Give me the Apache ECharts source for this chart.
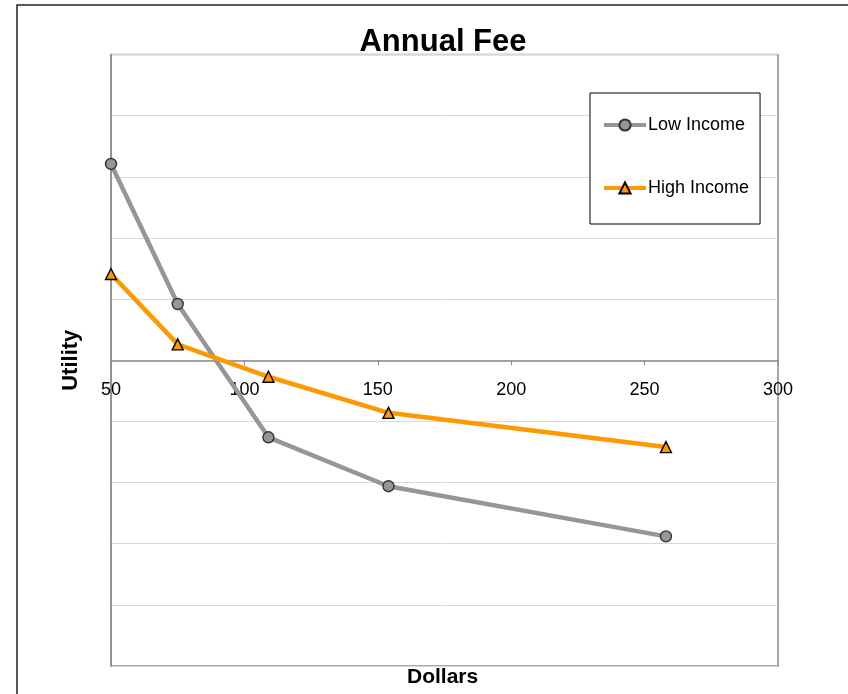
<!DOCTYPE html>
<html>
<head>
<meta charset="utf-8">
<title>Annual Fee</title>
<script src="https://cdn.jsdelivr.net/npm/echarts@6/dist/echarts.min.js"></script>
<style>
  html, body { margin: 0; padding: 0; background: #fff; }
  #chart { width: 848px; height: 694px; }
</style>
</head>
<body>
<div id="chart"></div>
<script>
// Annual fee levels (dollars) and estimated utility for each income group
const dollars = [50, 75, 109, 154, 258];
const lowIncome = [0.321, 0.092, -0.126, -0.206, -0.288];
const highIncome = [0.141, 0.026, -0.027, -0.086, -0.142];
const seriesNames = ['Low Income', 'High Income'];

const pairs = (xs, ys) => xs.map((x, i) => [x, ys[i]]);

const Y_MIN = -0.5, Y_MAX = 0.5;
const GRID = { left: 111, right: 70, top: 54.5, bottom: 28 };
const plotHeight = 694 - GRID.top - GRID.bottom;
// lift the dollar axis from the bottom of the plot up to utility = 0
const zeroOffset = -((0 - Y_MIN) / (Y_MAX - Y_MIN)) * plotHeight;

const chart = echarts.init(document.getElementById('chart'), null, { renderer: 'canvas' });

const font = 'Liberation Sans, Arial, Helvetica, sans-serif';

chart.setOption({
  animation: false,
  backgroundColor: '#ffffff',
  title: {
    text: 'Annual Fee',
    left: 438,
    textAlign: 'center',
    top: 22,
    textStyle: { fontFamily: font, fontSize: 31, fontWeight: 'bold', color: '#000' }
  },
  grid: Object.assign({
    outerBoundsMode: 'none',
    containLabel: false,
    show: true, borderColor: '#8c8c8c', borderWidth: 1.5, backgroundColor: '#fff'
  }, GRID),
  legend: {
    orient: 'vertical',
    left: 590, top: 93,
    width: 172,
    padding: [23, 11, 27, 12],
    itemGap: 45,
    itemWidth: 42, itemHeight: 14,
    borderColor: '#000', borderWidth: 1,
    backgroundColor: '#fff',
    textStyle: { fontFamily: font, fontSize: 18, color: '#000', padding: [0, 0, 0, -3] },
    data: [
      { name: seriesNames[0], lineStyle: { width: 4, color: '#969696' } },
      { name: seriesNames[1], lineStyle: { width: 4, color: '#ff9900' } }
    ]
  },
  xAxis: {
    type: 'value',
    position: 'bottom',
    offset: zeroOffset,
    min: 50, max: 300, interval: 50,
    axisLine: { onZero: false, lineStyle: { color: '#8c8c8c', width: 1.5 } },
    axisTick: { show: true, inside: false, length: 5, lineStyle: { color: '#8c8c8c' } },
    axisLabel: { margin: 21, fontFamily: font, fontSize: 18, color: '#000', showMinLabel: true, showMaxLabel: true },
    splitLine: { show: false }
  },
  yAxis: {
    type: 'value',
    min: Y_MIN, max: Y_MAX, interval: 0.1,
    name: 'Utility',
    nameLocation: 'middle',
    nameGap: 29,
    nameRotate: 90,
    nameTextStyle: { fontFamily: font, fontSize: 22, fontWeight: 'bold', color: '#000' },
    axisLine: { show: true, onZero: false, lineStyle: { color: '#8c8c8c', width: 1.5 } },
    axisTick: { show: false },
    axisLabel: { show: false },
    splitLine: { show: true, lineStyle: { color: '#d9d9d9', width: 1 } }
  },
  series: [
    {
      name: seriesNames[0],
      type: 'line',
      data: pairs(dollars, lowIncome),
      symbol: 'circle',
      symbolSize: 11,
      lineStyle: { color: '#969696', width: 4.5 },
      itemStyle: { color: '#969696', borderColor: '#333', borderWidth: 1.4 },
      z: 3
    },
    {
      name: seriesNames[1],
      type: 'line',
      data: pairs(dollars, highIncome),
      symbol: 'triangle',
      symbolSize: 11,
      lineStyle: { color: '#ff9900', width: 4.5 },
      itemStyle: { color: '#ff9900', borderColor: '#000', borderWidth: 1.4 },
      z: 4
    }
  ],
  graphic: [
    {
      type: 'rect',
      shape: { x: 17, y: 5, width: 900, height: 800 },
      style: { fill: 'none', stroke: '#222', lineWidth: 1.5 },
      silent: true, z: -10
    },
    {
      type: 'text',
      left: 407, top: 667, z: 100,
      style: { text: 'Dollars', fontFamily: font, fontSize: 21, fontWeight: 'bold', fill: '#000' }
    }
  ]
});
</script>
</body>
</html>
